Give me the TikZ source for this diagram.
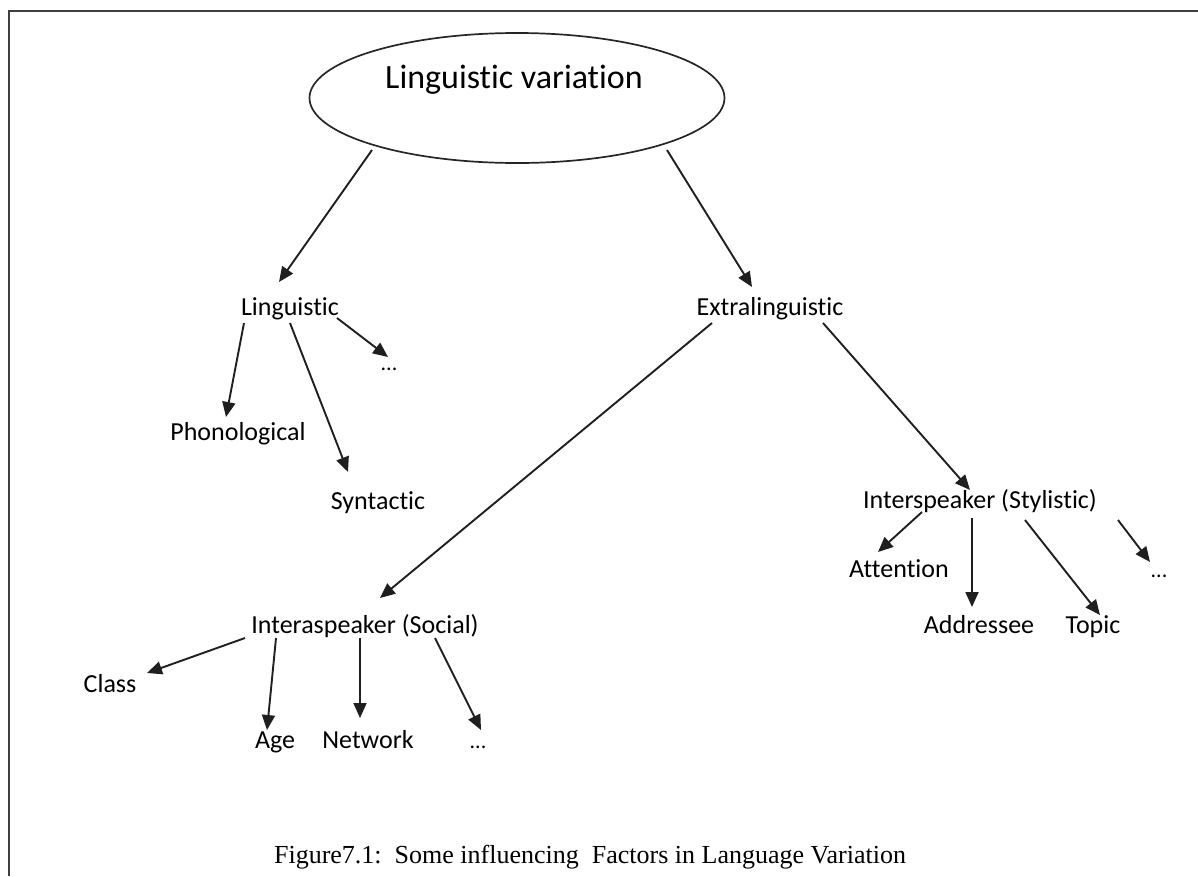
\documentclass[tikz,border=0pt]{standalone}
\usepackage{fontspec}
\usetikzlibrary{arrows.meta,shapes.geometric}
\newfontfamily\labfont[RawFeature={-liga;-clig;-dlig}]{Carlito}
\newfontfamily\capfont{Liberation Serif}

\tikzset{
  lbl/.style={anchor=base, inner sep=0pt, text=black,
    font=\labfont\fontsize{26}{30}\selectfont},
  dts/.style={lbl, font=\labfont\fontsize{22}{26}\selectfont},
  ttl/.style={anchor=base, inner sep=0pt, text=black,
    font=\labfont\fontsize{34}{40}\selectfont},
  capt/.style={anchor=base, inner sep=0pt, text=black,
    font=\capfont\fontsize{26}{30}\selectfont},
  arr/.style={draw=black!88, line width=1.9pt,
    -{Triangle[length=15pt,width=13pt]}},
  bubble/.style={ellipse, draw=black!85, line width=1.7pt,
    minimum width=415pt, minimum height=130pt, inner sep=0pt},
  frame/.style={draw=black!75, line width=2pt}
}

\begin{document}
\begin{tikzpicture}[x=1pt, y=-1pt]
  \useasboundingbox (0,0) rectangle (1198,876);

  % page frame (only its top and left sides fall on the page)
  \draw[frame] (9,876) -- (9,11) -- (1198,11);

  % root
  \node[bubble] (root) at (517,98) {};
  \node[ttl] (roottxt) at (514,88) {Linguistic variation};

  % first level
  \node[lbl] (lin) at (290,315) {Linguistic};
  \node[lbl] (ext) at (770,315) {Extralinguistic};

  % linguistic branch
  \node[lbl] (phon)  at (238,440) {Phonological};
  \node[lbl] (syn)   at (378,509) {Syntactic};
  \node[dts] (dotsa) at (389,370) {...};

  % extralinguistic branch
  \node[lbl] (soc) at (365,633) {Interaspeaker (Social)};
  \node[lbl] (sty) at (980,508) {Interspeaker (Stylistic)};

  % social factors
  \node[lbl] (cls)   at (110,692) {Class};
  \node[lbl] (age)   at (275,748) {Age};
  \node[lbl] (net)   at (368,748) {Network};
  \node[dts] (dotsc) at (478,748) {...};

  % stylistic factors
  \node[lbl] (att)   at (899,577) {Attention};
  \node[lbl] (addr)  at (979,633) {Addressee};
  \node[lbl] (topic) at (1093,633) {Topic};
  \node[dts] (dotsb) at (1159,577) {...};

  % caption
  \node[capt] (cap) at (590,863) {Figure7.1:\ \ Some influencing\ \ Factors in Language Variation};

  % connectors
  \draw[arr] ([shift={(-145,52)}]root.center) -- ([shift={(-11,-33)}]lin.base);
  \draw[arr] ([shift={(150,52)}]root.center)  -- ([shift={(-18,-28)}]ext.base);

  \draw[arr] ([shift={(-46,8)}]lin.base) -- ([shift={(-12,-23)}]phon.base);
  \draw[arr] ([shift={(0,8)}]lin.base)   -- ([shift={(-30,-37)}]syn.base);
  \draw[arr] ([shift={(47,3)}]lin.base)  -- ([shift={(-1,-13)}]dotsa.base);

  \draw[arr] ([shift={(-58,8)}]ext.base) -- ([shift={(15,-35)}]soc.base);
  \draw[arr] ([shift={(53,8)}]ext.base)  -- ([shift={(-10,-18)}]sty.base);

  \draw[arr] ([shift={(-58,4)}]sty.base)  -- ([shift={(-21,-25)}]att.base);
  \draw[arr] ([shift={(-8,10)}]sty.base)  -- ([shift={(-7,-26)}]addr.base);
  \draw[arr] ([shift={(45,12)}]sty.base)  -- ([shift={(7,-18)}]topic.base);
  \draw[arr] ([shift={(138,12)}]sty.base) -- ([shift={(-9,-15)}]dotsb.base);

  \draw[arr] ([shift={(-120,5)}]soc.base) -- ([shift={(37,-19)}]cls.base);
  \draw[arr] ([shift={(-89,5)}]soc.base)  -- ([shift={(-8,-18)}]age.base);
  \draw[arr] ([shift={(-5,5)}]soc.base)   -- ([shift={(-8,-30)}]net.base);
  \draw[arr] ([shift={(70,5)}]soc.base)   -- ([shift={(3,-18)}]dotsc.base);
\end{tikzpicture}
\end{document}
